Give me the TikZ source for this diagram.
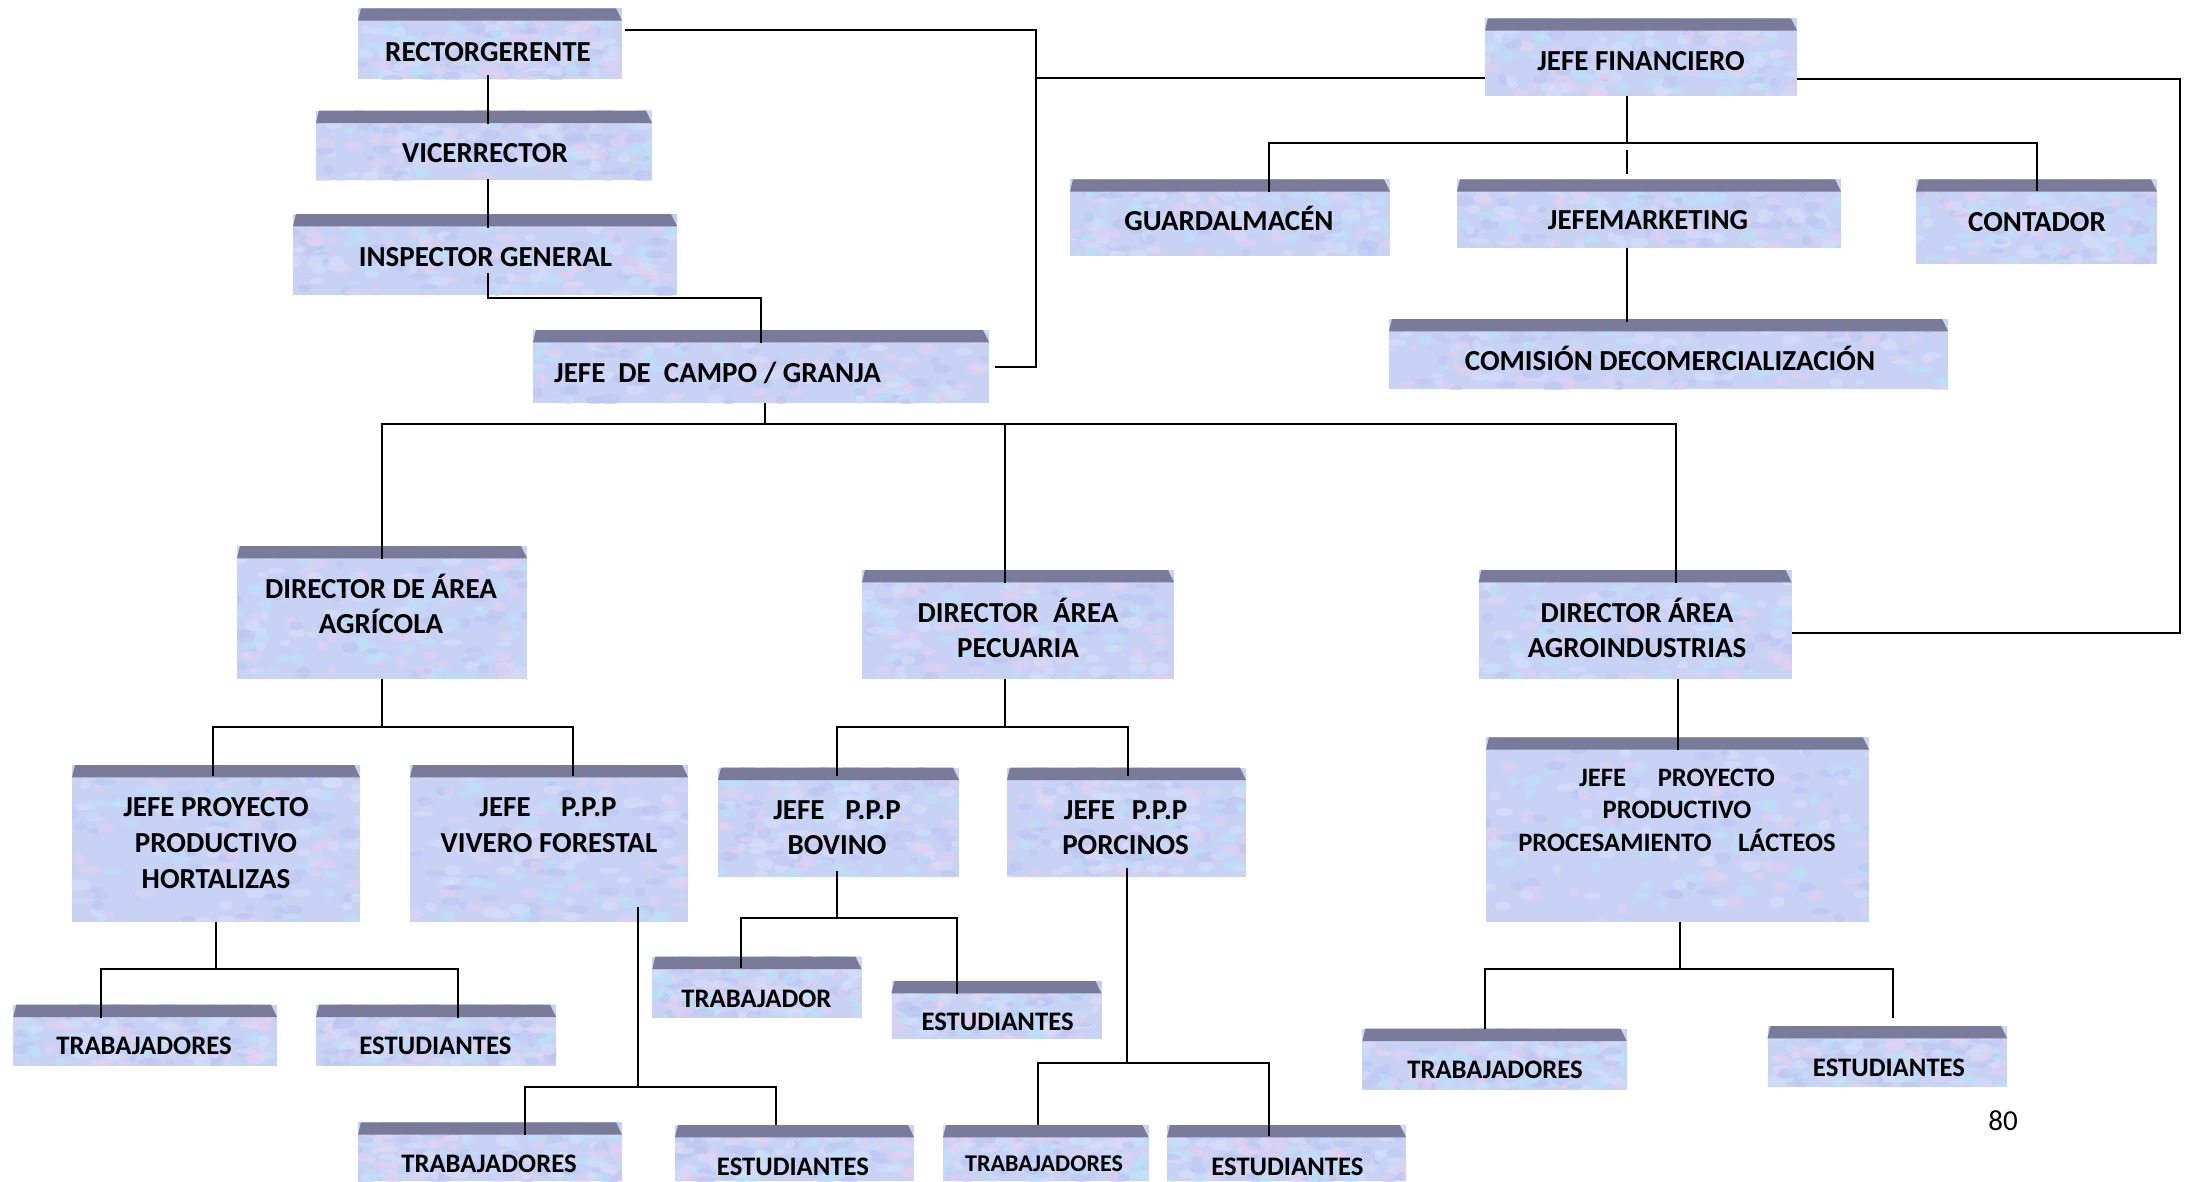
\documentclass[tikz,border=0pt]{standalone}
\usepackage{fontspec}
\setmainfont{Carlito}
\usetikzlibrary{calc}
\definecolor{bandc}{RGB}{122,122,154}
\definecolor{bodyc}{RGB}{200,210,245}
\definecolor{blob0}{RGB}{228,208,240}
\definecolor{blob1}{RGB}{186,226,248}
\definecolor{blob2}{RGB}{214,222,250}
\definecolor{blob3}{RGB}{188,198,242}
\newcommand{\obox}[5]{%
  \node[bodybox, anchor=north west, minimum width={(#4)-(#2)}, minimum height={(#5)-(#3)}] (#1) at (#2,-#3) {};
  \fill[bandc] ([xshift=3pt]#1.north west) -- ([xshift=-6pt]#1.north east) -- ([yshift=-12.3pt]#1.north east) -- ([yshift=-12.3pt]#1.north west) -- cycle;
}
\begin{document}
\begin{tikzpicture}[x=1pt,y=1pt,
  bodybox/.style={rectangle, inner sep=0pt, outer sep=0pt, fill=bodyc, draw=none,
    path picture={
      \foreach \k in {1,...,170}{
        \pgfmathsetmacro{\uu}{rnd}
        \pgfmathsetmacro{\vv}{rnd}
        \pgfmathtruncatemacro{\cc}{int(4*rnd)}
        \pgfmathsetmacro{\rx}{4+7*rnd}
        \pgfmathsetmacro{\ry}{2.5+3.5*rnd}
        \fill[blob\cc, opacity=0.6]
          ($(path picture bounding box.south west)!\uu!(path picture bounding box.south east)
            + (path picture bounding box.south west)!\vv!(path picture bounding box.north west)
            - (path picture bounding box.south west)$)
          ellipse [x radius=\rx, y radius=\ry];
      }
    }},
  lbl/.style={anchor=base, inner sep=0pt, font=\fontsize{29}{35}\selectfont\bfseries},
  lbls/.style={lbl, font=\fontsize{26.7}{32}\selectfont\bfseries},
  lblm/.style={lbl, font=\fontsize{26.6}{32}\selectfont\bfseries},
  lblxs/.style={lbl, font=\fontsize{24}{29}\selectfont\bfseries},
  conn/.style={draw=black, line width=2pt}]
\pgfmathsetseed{42}
\useasboundingbox (0,0) rectangle (2195,-1181);
\fill[white] (0,0) rectangle (2195,-1181);
% boxes
\obox{rector}{358}{8.3}{622}{79}
\obox{vice}{316}{110.7}{652}{180}
\obox{insp}{293}{214}{677}{295}
\obox{campo}{533}{330}{989}{403}
\obox{jf}{1485}{18.3}{1797}{95.7}
\obox{guard}{1070}{179.3}{1390}{255.7}
\obox{jm}{1457}{179.3}{1841}{247.7}
\obox{cont}{1916}{179.3}{2157}{263.7}
\obox{com}{1389}{319}{1948}{389.3}
\obox{agri}{237}{546}{527}{678.7}
\obox{pecu}{862}{570}{1174}{678.7}
\obox{agro}{1478.5}{570}{1791.6}{678.7}
\obox{hort}{72}{765}{360}{921.7}
\obox{viv}{410}{765}{688}{921.7}
\obox{bov}{718}{767.7}{959}{876.7}
\obox{porc}{1007}{767.7}{1246}{876.7}
\obox{lact}{1486}{737.3}{1869}{921.7}
\obox{tra}{13.3}{1004.7}{277}{1065.7}
\obox{esa}{316}{1004.7}{556}{1065.7}
\obox{trb}{652.4}{956.7}{861.5}{1017.7}
\obox{esb}{891.5}{981}{1101.5}{1038.7}
\obox{trv}{358}{1122.3}{622}{1181}
\obox{esv}{675}{1125}{914}{1181}
\obox{trp}{943}{1125}{1148.5}{1181}
\obox{esp}{1167}{1125}{1406}{1181}
\obox{trl}{1362.4}{1028.7}{1626.6}{1089.7}
\obox{esl}{1767.5}{1026}{2007}{1086.7}
% texts
\node[lbl] (t-rector) at (488,-61) {RECTORGERENTE};
\node[lbl] (t-vice) at (485,-162.3) {VICERRECTOR};
\node[lbl] (t-insp) at (485.5,-266.3) {INSPECTOR GENERAL};
\node[lbl, anchor=base west] (t-campo) at (554,-382.3) {JEFE\hspace{0.45em}DE\hspace{0.45em}CAMPO / GRANJA};
\node[lbl] (t-jf) at (1641,-70.3) {JEFE FINANCIERO};
\node[lbl] (t-guard) at (1229,-230) {GUARDALMACÉN};
\node[lbl] (t-jm) at (1648,-229.3) {JEFEMARKETING};
\node[lbl] (t-cont) at (2037,-231) {CONTADOR};
\node[lbl] (t-com) at (1670,-370.3) {COMISIÓN DECOMERCIALIZACIÓN};
\node[lbl] (t-agri1) at (381,-598.3) {DIRECTOR DE ÁREA};
\node[lbl] (t-agri2) at (381,-633.3) {AGRÍCOLA};
\node[lbl] (t-pecu1) at (1018,-622.6) {DIRECTOR\hspace{0.5em}ÁREA};
\node[lbl] (t-pecu2) at (1018,-657.6) {PECUARIA};
\node[lbl] (t-agro1) at (1637,-622.6) {DIRECTOR ÁREA};
\node[lbl] (t-agro2) at (1637,-657.6) {AGROINDUSTRIAS};
\node[lbl] (t-hort1) at (216,-816) {JEFE PROYECTO};
\node[lbl] (t-hort2) at (216,-852.6) {PRODUCTIVO};
\node[lbl] (t-hort3) at (216,-888.3) {HORTALIZAS};
\node[lbl] (t-viv1) at (548,-816) {JEFE\hspace{1.05em}P.P.P};
\node[lbl] (t-viv2) at (549,-852) {VIVERO FORESTAL};
\node[lbl] (t-bov1) at (837,-819.3) {JEFE\hspace{0.72em}P.P.P};
\node[lbl] (t-bov2) at (837,-854.3) {BOVINO};
\node[lbl] (t-porc1) at (1125.6,-819.3) {JEFE\hspace{0.58em}P.P.P};
\node[lbl] (t-porc2) at (1125.6,-854.3) {PORCINOS};
\node[lblm] (t-lact1) at (1677,-786.6) {JEFE\hspace{1.19em}PROYECTO};
\node[lblm] (t-lact2) at (1677,-818.6) {PRODUCTIVO};
\node[lblm] (t-lact3) at (1677,-851.3) {PROCESAMIENTO\hspace{1em}LÁCTEOS};
\node[lbls] (t-tra) at (144,-1054.3) {TRABAJADORES};
\node[lbls] (t-esa) at (435.5,-1054.3) {ESTUDIANTES};
\node[lbls] (t-trb) at (756.5,-1007) {TRABAJADOR};
\node[lbls] (t-esb) at (997.6,-1030.3) {ESTUDIANTES};
\node[lbls] (t-trv) at (489,-1172) {TRABAJADORES};
\node[lbls] (t-esv) at (793,-1175.3) {ESTUDIANTES};
\node[lblxs] (t-trp) at (1044,-1171) {TRABAJADORES};
\node[lbls] (t-esp) at (1287.4,-1175.3) {ESTUDIANTES};
\node[lbls] (t-trl) at (1495,-1078.6) {TRABAJADORES};
\node[lbls] (t-esl) at (1889,-1076.3) {ESTUDIANTES};
\node[anchor=base, inner sep=0pt, font=\fontsize{29}{35}\selectfont] (pg) at (2003,-1130) {80};
% connectors
\coordinate (c1) at (487.5,-297.7);
\draw[conn] ([yshift=4pt]rector.south -| c1) -- ([yshift=-13.3pt]vice.north -| c1);
\draw[conn] ([yshift=1pt]vice.south -| c1) -- ([yshift=-14pt]insp.north -| c1);
\draw[conn] ([yshift=22pt]insp.south -| c1) -- (c1) -| ([yshift=-13pt]campo.north);
\coordinate (c2) at (1036,-29.7);
\coordinate (c3) at (1036,-78.2);
\draw[conn] ([xshift=3pt]rector.east |- c2) -- (c2) |- ([xshift=6pt]campo.east);
\draw[conn] (c3) -- (jf.west |- c3);
\coordinate (c4) at (2180,-78.7);
\coordinate (c5) at (2180,-633.3);
\draw[conn] (jf.east |- c4) -- (c4) -- (c5) -- (agro.east |- c5);
\coordinate (c6) at (1627,-143.3);
\draw[conn] (jf.south -| c6) -- (c6);
\draw[conn] ([xshift=39pt,yshift=-12.7pt]guard.north) |- (c6) -| ([yshift=-11.4pt]cont.north);
\draw[conn] ([yshift=-6.7pt]c6) -- ([yshift=5.3pt]jm.north -| c6);
\draw[conn] (jm.south -| c6) -- ([yshift=-2.7pt]com.north -| c6);
\coordinate (c7) at (764.6,-424);
\draw[conn] (campo.south -| c7) -- (c7);
\draw[conn] ([yshift=-13pt]agri.north) |- (c7) -| ([xshift=41.3pt,yshift=-13pt]agro.north);
\draw[conn] ([xshift=-13.4pt]pecu.north |- c7) -- ([xshift=-13.4pt,yshift=-13.3pt]pecu.north);
\coordinate (c8) at (382,-726.7);
\draw[conn] (agri.south) -- (c8);
\draw[conn] ([xshift=-3.4pt,yshift=-10.7pt]hort.north) |- (c8) -| ([xshift=24pt,yshift=-10.7pt]viv.north);
\coordinate (c9) at (1004.6,-726.7);
\draw[conn] (pecu.south -| c9) -- (c9);
\draw[conn] ([xshift=-1.5pt,yshift=-8pt]bov.north) |- (c9) -| ([xshift=1.5pt,yshift=-8pt]porc.north);
\draw[conn] (agro.south -| lact.north) -- ([yshift=-12.7pt]lact.north);
\coordinate (c10) at (216,-969.3);
\draw[conn] (hort.south) -- (c10);
\draw[conn] ([xshift=-44pt,yshift=-13.6pt]tra.north) |- (c10) -| ([xshift=22pt,yshift=-13.6pt]esa.north);
\coordinate (c11) at (637.7,-1087.3);
\draw[conn] ([yshift=14.4pt]viv.south -| c11) -- (c11);
\draw[conn] ([xshift=34.7pt,yshift=-12.7pt]trv.north) |- (c11) -| ([xshift=-18.5pt]esv.north);
\coordinate (c12) at (837,-918.3);
\draw[conn] ([yshift=6pt]bov.south -| c12) -- (c12);
\draw[conn] ([xshift=-16.2pt,yshift=-11pt]trb.north) |- (c12) -| ([xshift=-39.6pt,yshift=-13pt]esb.north);
\coordinate (c13) at (1127,-1063.3);
\draw[conn] ([yshift=9pt]porc.south -| c13) -- (c13);
\draw[conn] ([xshift=-7.5pt]trp.north) |- (c13) -| ([xshift=-17.5pt,yshift=-10.7pt]esp.north);
\coordinate (c14) at (1679.5,-969.3);
\draw[conn] (lact.south -| c14) -- (c14);
\draw[conn] ([xshift=-9.5pt]trl.north) |- (c14) -| ([xshift=5.75pt,yshift=7.7pt]esl.north);
\end{tikzpicture}
\end{document}
